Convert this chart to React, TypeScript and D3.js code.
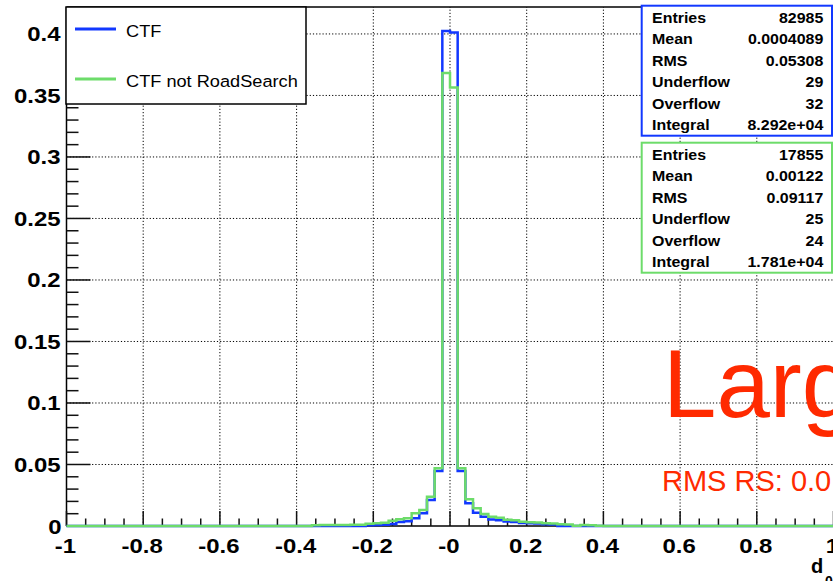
import React from 'react';
import * as d3 from 'd3';

// histogram binning: 100 bins of 0.02 on [-1, 1]
const X_MIN = -1;
const X_MAX = 1;
const N_BINS = 100;

// CTF (blue), contents of the non-empty bins starting at low edge -0.22
const ctfFirstEdge = -0.22;
const ctfValues = [
  0.0006, 0.0008, 0.0010, 0.0016, 0.0032, 0.0038, 0.0062, 0.0103, 0.0211, 0.0447,
  0.4024, 0.4011, 0.0447, 0.0184, 0.0108, 0.0076, 0.0052, 0.0047, 0.0036, 0.0033,
  0.0024, 0.0022, 0.0020, 0.0014, 0.0012,
];

// CTF not RoadSearch (green), non-empty bins starting at low edge -0.36
const notRsFirstEdge = -0.36;
const notRsValues = [
  0.0006, 0.0008, 0.0008, 0.0008, 0.0009, 0.0010, 0.0010, 0.0018, 0.0022, 0.0026,
  0.0043, 0.0055, 0.0062, 0.0103, 0.0130, 0.0238, 0.0470, 0.3683, 0.3564, 0.0469,
  0.0217, 0.0144, 0.0097, 0.0075, 0.0068, 0.0050, 0.0046, 0.0034, 0.0030, 0.0028,
  0.0022, 0.0021, 0.0015, 0.0013, 0.0003, 0.0008, 0.0006, 0.0002,
];

const xTicks = [-1, -0.8, -0.6, -0.4, -0.2, 0, 0.2, 0.4, 0.6, 0.8, 1];
const xTickLabels = ['-1', '-0.8', '-0.6', '-0.4', '-0.2', '-0', '0.2', '0.4', '0.6', '0.8', '1'];
const yTicks = [0, 0.05, 0.1, 0.15, 0.2, 0.25, 0.3, 0.35, 0.4];
const yTickLabels = ['0', '0.05', '0.1', '0.15', '0.2', '0.25', '0.3', '0.35', '0.4'];
const Y_MAX = 0.4219;

const statsLabels = ['Entries', 'Mean', 'RMS', 'Underflow', 'Overflow', 'Integral'];
const ctfStats = ['82985', '0.0004089', '0.05308', '29', '32', '8.292e+04'];
const notRsStats = ['17855', '0.00122', '0.09117', '25', '24', '1.781e+04'];

const BLUE = '#1238ff';
const GREEN = '#6ddc6a';
const RED = '#ff2a00';
const FONT = '"Liberation Sans", Arial, Helvetica, sans-serif';

const W = 833;
const H = 581;

function fullHist(firstEdge: number, values: number[]) {
  const bw = (X_MAX - X_MIN) / N_BINS;
  const start = Math.round((firstEdge - X_MIN) / bw);
  const bins = new Array(N_BINS).fill(0);
  values.forEach((v, i) => { bins[start + i] = v; });
  const pts: [number, number][] = bins.map((v, i) => [X_MIN + i * bw, v]);
  pts.push([X_MAX, bins[N_BINS - 1]]);
  return pts;
}

function SText(props: any) {
  const { x, y, sx = 1, anchor = 'start', size, weight = 'normal', fill = '#000', children } = props;
  return (
    <text
      transform={`translate(${x},${y}) scale(${sx},1)`}
      textAnchor={anchor}
      fontSize={size}
      fontWeight={weight}
      fill={fill}
      fontFamily={FONT}
    >
      {children}
    </text>
  );
}

function StatsBox(props: any) {
  const { top, color, values } = props;
  const left = 641.7, right = 832, h = 130;
  return (
    <g>
      <rect x={left} y={top} width={right - left} height={h} fill="#fff" stroke={color} strokeWidth={2} />
      {statsLabels.map((lab, i) => (
        <g key={lab}>
          <SText x={652} y={top + 12.3 + i * 21.4 + 5} sx={1.14} size={14} weight="bold">{lab}</SText>
          <SText x={823.3} y={top + 12.3 + i * 21.4 + 5} sx={1.14} size={14} weight="bold" anchor="end">{values[i]}</SText>
        </g>
      ))}
    </g>
  );
}

export default function App() {
  const x = d3.scaleLinear().domain([X_MIN, X_MAX]).range([66.5, 833.5]);
  const y = d3.scaleLinear().domain([0, Y_MAX]).range([526, 7]);

  const line = d3.line<[number, number]>()
    .x(d => x(d[0]))
    .y(d => y(d[1]))
    .curve(d3.curveStepAfter);

  const ctfPath = line(fullHist(ctfFirstEdge, ctfValues)) || '';
  const notRsPath = line(fullHist(notRsFirstEdge, notRsValues)) || '';

  const yMinor = d3.range(0, Y_MAX, 0.01);
  const xMinor = d3.range(X_MIN, X_MAX + 1e-9, 0.05);

  const [x0, x1] = x.range();
  const [y0, y1] = y.range();

  return (
    <svg width={W} height={H} style={{ position: 'absolute', left: 0, top: 0, background: '#fff' }}>
      <rect x={0} y={0} width={W} height={H} fill="#fff" />

      {/* grid */}
      <g stroke="#000" strokeWidth={1} strokeDasharray="1.2 2">
        {xTicks.slice(1, -1).map(t => (
          <line key={'gx' + t} x1={x(t)} x2={x(t)} y1={y0} y2={y1} />
        ))}
        {yTicks.slice(1).map(t => (
          <line key={'gy' + t} x1={x0} x2={x1} y1={y(t)} y2={y(t)} />
        ))}
      </g>

      {/* frame */}
      <line x1={x0} x2={x1} y1={y1} y2={y1} stroke="#000" strokeWidth={1.5} />
      <line x1={x0} x2={x0} y1={y0} y2={y1} stroke="#000" strokeWidth={1.5} />
      <line x1={x0} x2={x1} y1={y0} y2={y0} stroke="#000" strokeWidth={1.5} />

      {/* ticks */}
      <g stroke="#111" strokeWidth={1.5}>
        {yMinor.map(v => {
          const major = Math.abs(v / 0.05 - Math.round(v / 0.05)) < 1e-6;
          return <line key={'ym' + v} x1={x0} x2={x0 + (major ? 24 : 12)} y1={y(v)} y2={y(v)} />;
        })}
        {xMinor.map(v => {
          const major = Math.abs(v / 0.2 - Math.round(v / 0.2)) < 1e-6;
          return <line key={'xm' + v} x1={x(v)} x2={x(v)} y1={y0} y2={y0 - (major ? 15 : 7.5)} />;
        })}
      </g>

      {/* histograms */}
      <path d={ctfPath} fill="none" stroke={BLUE} strokeWidth={2.5} />
      <path d={notRsPath} fill="none" stroke={GREEN} strokeWidth={2.5} />

      {/* tick labels */}
      {yTicks.map((t, i) => (
        <SText key={'yl' + t} x={t === 0 ? 61.5 : 60.5} y={y(t) + 7.5 + (t === 0 ? 0.5 : 0)} sx={1.14} size={21} weight="bold" anchor="end">
          {yTickLabels[i]}
        </SText>
      ))}
      {xTicks.map((t, i) => (
        <SText key={'xl' + t} x={x(t) - 1} y={553} sx={1.14} size={21} weight="bold" anchor="middle">
          {xTickLabels[i]}
        </SText>
      ))}

      {/* axis title */}
      <SText x={811} y={573} size={20} weight="bold">d</SText>
      <SText x={825} y={586} size={14} weight="bold">0</SText>

      {/* legend */}
      <rect x={66} y={7} width={240} height={97} fill="#fff" stroke="#000" strokeWidth={1.5} />
      <line x1={75} x2={116} y1={29} y2={29} stroke={BLUE} strokeWidth={3} />
      <SText x={126} y={37} sx={1.07} size={17}>CTF</SText>
      <line x1={75} x2={116} y1={79} y2={79} stroke={GREEN} strokeWidth={3} />
      <SText x={126} y={87} sx={1.07} size={17}>CTF not RoadSearch</SText>

      {/* stats boxes */}
      <StatsBox top={5.7} color={BLUE} values={ctfStats} />
      <StatsBox top={142.7} color={GREEN} values={notRsStats} />

      {/* annotations */}
      <SText x={663} y={417} size={96} fill={RED}>Larg</SText>
      <SText x={662} y={491} size={29} fill={RED}>RMS RS: 0.0</SText>
    </svg>
  );
}
